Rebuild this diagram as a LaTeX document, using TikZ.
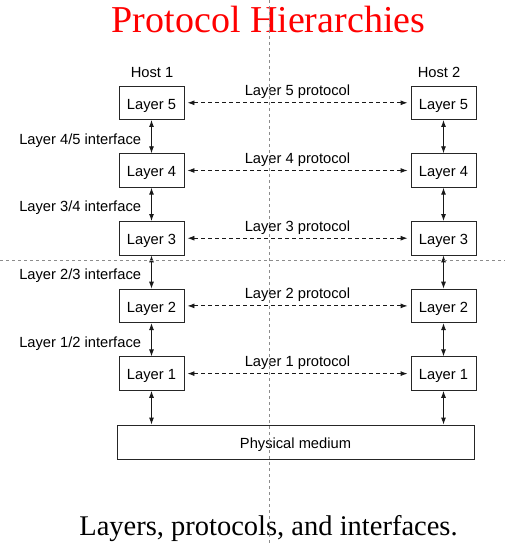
\documentclass[tikz,border=0pt]{standalone}
\usepackage{fontspec}
\setmainfont{Liberation Serif}
\newfontfamily\diagsans{Liberation Sans}
\usetikzlibrary{arrows.meta}
\begin{document}
\begin{tikzpicture}[x=1pt,y=-1pt,
  layerbox/.style={draw=black!85, line width=0.9pt, minimum width=65pt, minimum height=33.5pt,
    inner sep=0pt, text height=12.6pt, text depth=0pt, font=\diagsans\fontsize{14.7}{16}\selectfont},
  sanslabel/.style={inner sep=0pt, font=\diagsans\fontsize{14.7}{16}\selectfont},
  protolabel/.style={sanslabel, anchor=base, yshift=7pt},
  ifacelabel/.style={sanslabel, anchor=base east, xshift=-10pt, yshift=-7.5pt},
  proto/.style={draw=black!90, line width=0.9pt, dash pattern=on 4pt off 3pt,
    {Latex[length=7pt,width=5pt]}-{Latex[length=7pt,width=5pt]}, shorten <=3pt, shorten >=3pt},
  iface/.style={draw=black!90, line width=0.9pt,
    {Latex[length=7pt,width=5pt]}-{Latex[length=7pt,width=5pt]}},
  guide/.style={draw=black!45, line width=0.6pt, dash pattern=on 3pt off 3pt}
]
\useasboundingbox (0,0) rectangle (505,545);

\node[anchor=base, inner sep=0pt, text=red, font=\fontsize{38}{40}\selectfont] (title) at (268.5,33) {Protocol Hierarchies};

\node[sanslabel, anchor=base] (h1) at (152,77.3) {Host 1};
\node[sanslabel, anchor=base] (h2) at (439,77.3) {Host 2};

\foreach \n/\yy in {5/102.8, 4/170.5, 3/238.2, 2/305.9, 1/373.6} {
  \node[layerbox] (l\n) at (151.5,\yy) {Layer \n};
  \node[layerbox] (r\n) at (443.5,\yy) {Layer \n};
  \draw[proto] (l\n.east) -- node[protolabel] {Layer \n\ protocol} (r\n.west);
}

\node[layerbox, minimum width=357pt, minimum height=34pt] (phys) at (295.5,442) {Physical medium};

\draw[iface] (l5.south) -- node[ifacelabel] {Layer 4/5 interface} (l4.north);
\draw[iface] (l4.south) -- node[ifacelabel] {Layer 3/4 interface} (l3.north);
\draw[iface] (l3.south) -- node[ifacelabel] {Layer 2/3 interface} (l2.north);
\draw[iface] (l2.south) -- node[ifacelabel] {Layer 1/2 interface} (l1.north);
\draw[iface] (l1.south) -- (l1.south |- phys.north);

\draw[iface] (r5.south) -- (r4.north);
\draw[iface] (r4.south) -- (r3.north);
\draw[iface] (r3.south) -- (r2.north);
\draw[iface] (r2.south) -- (r1.north);
\draw[iface] (r1.south) -- (r1.south |- phys.north);

\node[anchor=base, inner sep=0pt, font=\fontsize{28.5}{30}\selectfont] (caption) at (268.5,535) {Layers, protocols, and interfaces.};

\coordinate (vtop) at (269,0);
\coordinate (vbot) at (269,545);
\coordinate (hleft) at (0,260);
\coordinate (hright) at (505,260);
\draw[guide] (vtop) -- (vbot);
\draw[guide] (hleft) -- (hright);
\end{tikzpicture}
\end{document}
